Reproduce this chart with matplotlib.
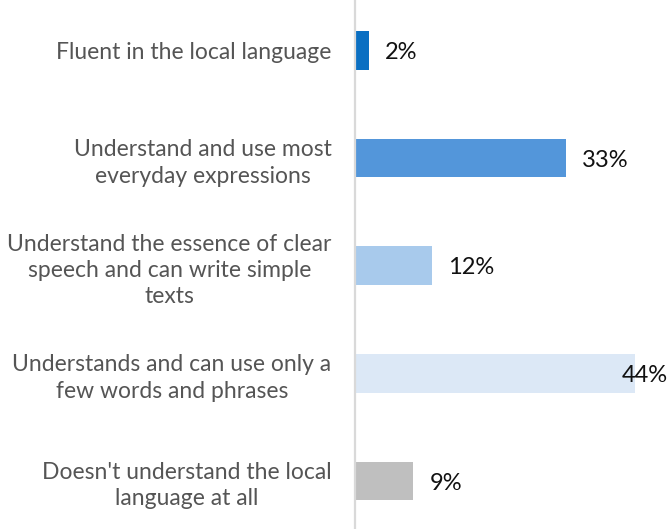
import matplotlib
matplotlib.use("Agg")
import matplotlib.pyplot as plt

plt.rcParams['font.family'] = ['Lato', 'DejaVu Sans']

categories = [
    "Fluent in the local language",
    "Understand and use most\neveryday expressions",
    "Understand the essence of clear\nspeech and can write simple\ntexts",
    "Understands and can use only a\nfew words and phrases",
    "Doesn't understand the local\nlanguage at all",
]
values = [2, 33, 12, 44, 9]
colors = ["#0a6fc2", "#5396da", "#a8caec", "#dce8f6", "#bfbfbf"]

fig = plt.figure(figsize=(6.67, 5.29), dpi=100)
ax = fig.add_axes([355 / 667, 0, 312 / 667, 1])

ypos = list(range(len(values)))
ax.barh(ypos, values, height=0.36, color=colors, left=0.15)

xmax = 312 / 6.35
ax.set_xlim(0, xmax)
ax.set_ylim(4 + 48 / 107.7, -50.5 / 107.7)

# value labels to the right of each bar, pulled back inside when they would run off
for y, v in zip(ypos, values):
    label = f"{v}%"
    if v + 2.7 + 7 > xmax:
        ax.text(xmax + 0.2, y, label, ha='right', va='center_baseline', fontsize=17, color='#111111')
    else:
        ax.text(v + 2.7, y, label, ha='left', va='center_baseline', fontsize=17, color='#111111')

ax.set_yticks(ypos)
ax.set_yticklabels(categories, fontsize=16.5, color='#555555',
                   multialignment='center', linespacing=1.32)
ax.tick_params(axis='y', length=0, pad=17)
ax.set_xticks([])

for side in ['top', 'right', 'bottom']:
    ax.spines[side].set_visible(False)
ax.spines['left'].set_color('#d9d9d9')
ax.spines['left'].set_linewidth(1.6)

fig.savefig("out.png", dpi=100)
